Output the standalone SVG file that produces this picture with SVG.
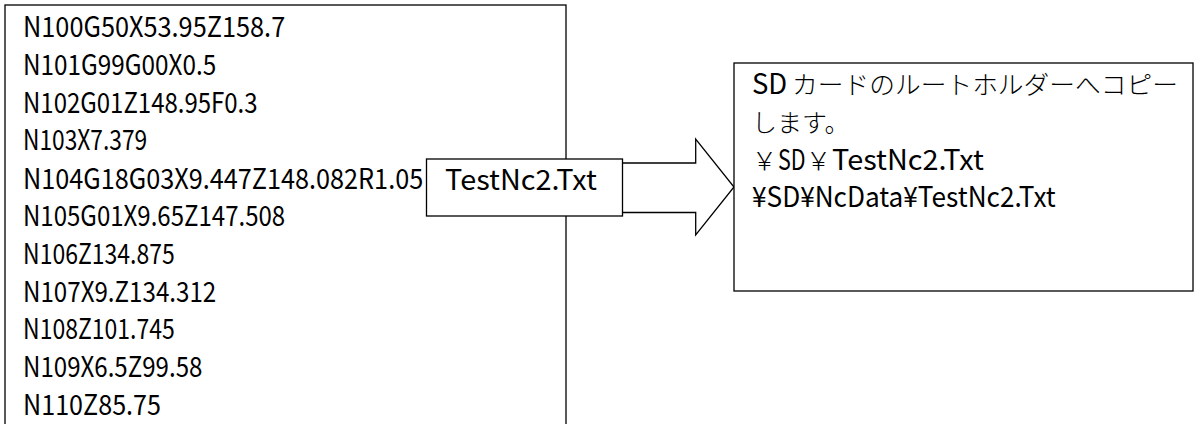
<svg xmlns="http://www.w3.org/2000/svg" width="1197" height="424" viewBox="0 0 1197 424">
<style>
.box{fill:#fff;stroke:#000;stroke-width:1.3}
.g{font-family:"Noto Sans CJK JP","Liberation Sans",sans-serif;font-size:28px;fill:#000}
.m{font-family:"Noto Sans CJK JP",sans-serif;font-weight:300;font-size:25px;fill:#000}
</style>
<rect width="1197" height="424" fill="#fff"/>
<g id="ncprogram">
<rect class="box" x="5" y="5" width="561" height="440"/>
<text class="g" x="23" y="37" textLength="262.2" lengthAdjust="spacingAndGlyphs">N100G50X53.95Z158.7</text>
<text class="g" x="23" y="74.8" textLength="193.2" lengthAdjust="spacingAndGlyphs">N101G99G00X0.5</text>
<text class="g" x="23" y="112.6" textLength="234.6" lengthAdjust="spacingAndGlyphs">N102G01Z148.95F0.3</text>
<text class="g" x="23" y="150.4" textLength="124.2" lengthAdjust="spacingAndGlyphs">N103X7.379</text>
<text class="g" x="23" y="189.2" textLength="400.2" lengthAdjust="spacingAndGlyphs">N104G18G03X9.447Z148.082R1.05</text>
<text class="g" x="23" y="226" textLength="262.2" lengthAdjust="spacingAndGlyphs">N105G01X9.65Z147.508</text>
<text class="g" x="23" y="263.8" textLength="151.8" lengthAdjust="spacingAndGlyphs">N106Z134.875</text>
<text class="g" x="23" y="301.6" textLength="193.2" lengthAdjust="spacingAndGlyphs">N107X9.Z134.312</text>
<text class="g" x="23" y="339.4" textLength="151.8" lengthAdjust="spacingAndGlyphs">N108Z101.745</text>
<text class="g" x="23" y="377.2" textLength="179.4" lengthAdjust="spacingAndGlyphs">N109X6.5Z99.58</text>
<text class="g" x="23" y="415" textLength="138" lengthAdjust="spacingAndGlyphs">N110Z85.75</text>
</g>
<g id="connectors">
<path class="box" d="M622.5,163 H695.7 V139 L734,187 L695.7,235 V212.5 H622.5"/>
</g>
<g id="filename">
<rect class="box" x="426.5" y="159" width="196" height="57"/>
<text class="g" x="445" y="190" textLength="151.8" lengthAdjust="spacingAndGlyphs">TestNc2.Txt</text>
</g>
<g id="sdcard">
<rect class="box" x="734" y="63" width="459" height="228"/>
<text y="94"><tspan class="g" x="752" textLength="41.4" lengthAdjust="spacingAndGlyphs">SD </tspan><tspan class="m" x="792" textLength="386" lengthAdjust="spacingAndGlyphs">カードのルートホルダーへコピー</tspan></text>
<text class="m" x="752" y="132">します。</text>
<text y="170"><tspan class="m" x="752">￥</tspan><tspan class="g" x="778" textLength="27.6" lengthAdjust="spacingAndGlyphs">SD</tspan><tspan class="m" x="806">￥</tspan><tspan class="g" x="832" textLength="151.8" lengthAdjust="spacingAndGlyphs">TestNc2.Txt</tspan></text>
<text class="g" x="752" y="207" textLength="303.6" lengthAdjust="spacingAndGlyphs">¥SD¥NcData¥TestNc2.Txt</text>
</g>
</svg>
